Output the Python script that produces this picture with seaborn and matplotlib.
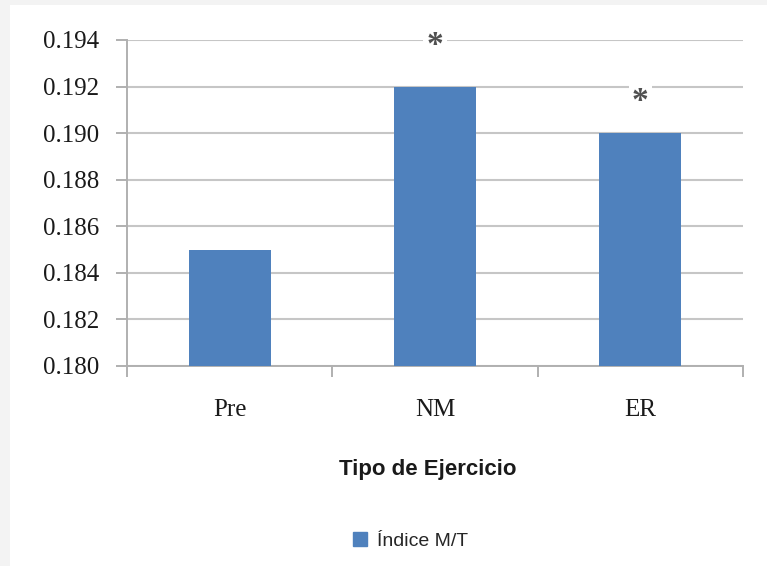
import matplotlib
matplotlib.use("Agg")
import matplotlib.pyplot as plt
from matplotlib.patches import Rectangle
from matplotlib.lines import Line2D
import seaborn as sns
import pandas as pd

categories = ["Pre", "NM", "ER"]
indice_mt = [0.185, 0.192, 0.190]
significant = [False, True, True]
star_levels = [None, 0.1940, 0.1916]
y_ticks = [0.180, 0.182, 0.184, 0.186, 0.188, 0.190, 0.192, 0.194]
y_tick_labels = ["0.180", "0.182", "0.184", "0.186", "0.188", "0.190", "0.192", "0.194"]

bar_color = "#4f81bd"
grid_color = "#c6c6c6"
axis_color = "#b0b0b0"

sns.set_theme(style="white")

df = pd.DataFrame({"Tipo de Ejercicio": categories, "Índice M/T": indice_mt})

fig = plt.figure(figsize=(7.67, 5.66), dpi=100, facecolor="#f3f3f3")
fig.patches.append(Rectangle((10 / 767, 0), 1, 1 - 5 / 566, transform=fig.transFigure,
                             facecolor="white", edgecolor="none", zorder=-1))

ax = fig.add_axes([127 / 767, 1 - 366 / 566, (743 - 127) / 767, (366 - 40) / 566])
ax.set_facecolor("none")

sns.barplot(data=df, x="Tipo de Ejercicio", y="Índice M/T", color=bar_color,
            width=0.4, saturation=1, linewidth=0, edgecolor="none", ax=ax, zorder=3)

ax.set_ylim(0.180, 0.194)
ax.set_xlim(-0.5, 2.5)
ax.set_yticks(y_ticks)
ax.set_yticklabels(y_tick_labels, family="Liberation Serif", fontsize=18, color="#1a1a1a")
ax.set_xticks(range(len(categories)))
ax.set_xticklabels(categories, family="Liberation Serif", fontsize=18, color="#1a1a1a")
ax.set_xticks([-0.5, 0.5, 1.5, 2.5], minor=True)
ax.tick_params(axis="x", which="major", length=0, pad=24, bottom=False)
ax.tick_params(axis="x", which="minor", length=8, width=1.4, color=axis_color,
               direction="out", bottom=True)
ax.tick_params(axis="y", which="major", length=8, width=1.4, color=axis_color,
               direction="out", pad=12, left=True)
ax.set_xlabel("")
ax.set_ylabel("")

ax.yaxis.grid(True, color=grid_color, linewidth=1.5, zorder=0)
ax.set_axisbelow(True)
for side in ["top", "right"]:
    ax.spines[side].set_visible(False)
for side in ["left", "bottom"]:
    ax.spines[side].set_color(axis_color)
    ax.spines[side].set_linewidth(1.4)

# significance asterisks, centred on their level
star_size = 24
for i, (flag, level) in enumerate(zip(significant, star_levels)):
    if flag:
        ax.annotate("*", xy=(i, level), xytext=(0, -0.41 * star_size), textcoords="offset points",
                    ha="center", va="baseline", fontsize=star_size, fontweight="bold",
                    family="Liberation Serif", color="#505050", zorder=4,
                    bbox=dict(boxstyle="square,pad=0.1", facecolor="white", edgecolor="none"))

fig.text(427.5 / 767, 1 - 469 / 566, "Tipo de Ejercicio", ha="center", va="center",
         family="Liberation Sans", fontsize=16, fontweight="bold", color="#1a1a1a")

handle = Line2D([], [], marker="s", linestyle="none", markersize=10,
                markerfacecolor=bar_color, markeredgecolor=bar_color)
fig.legend([handle], ["Índice M/T"], loc="center", bbox_to_anchor=(409 / 767, 1 - 541 / 566),
           frameon=False, prop={"family": "Liberation Sans", "size": 14},
           handletextpad=0.4, handlelength=1.0)

fig.savefig("out.png", dpi=100, facecolor=fig.get_facecolor())
